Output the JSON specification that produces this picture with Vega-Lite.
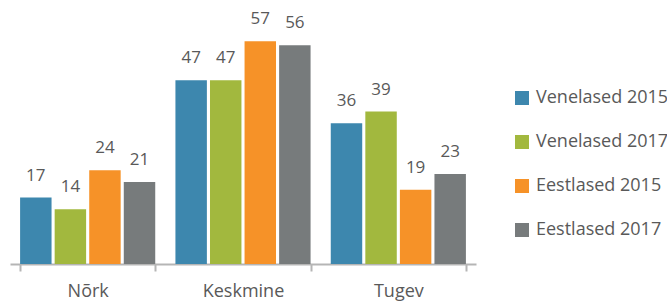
{
  "$schema": "https://vega.github.io/schema/vega-lite/v6.json",
  "autosize": {"type": "none"},
  "padding": {"left": 10, "top": 10, "right": 191, "bottom": 38},
  "width": 466,
  "height": 254,
  "background": "white",
  "config": {
    "view": {"stroke": null},
    "font": "Open Sans",
    "text": {"font": "Open Sans"}
  },
  "data": {
    "values": [
      {"group": "Nõrk", "series": "Venelased 2015", "value": 17},
      {"group": "Nõrk", "series": "Venelased 2017", "value": 14},
      {"group": "Nõrk", "series": "Eestlased 2015", "value": 24},
      {"group": "Nõrk", "series": "Eestlased 2017", "value": 21},
      {"group": "Keskmine", "series": "Venelased 2015", "value": 47},
      {"group": "Keskmine", "series": "Venelased 2017", "value": 47},
      {"group": "Keskmine", "series": "Eestlased 2015", "value": 57},
      {"group": "Keskmine", "series": "Eestlased 2017", "value": 56},
      {"group": "Tugev", "series": "Venelased 2015", "value": 36},
      {"group": "Tugev", "series": "Venelased 2017", "value": 39},
      {"group": "Tugev", "series": "Eestlased 2015", "value": 19},
      {"group": "Tugev", "series": "Eestlased 2017", "value": 23}
    ]
  },
  "encoding": {
    "x": {
      "field": "group",
      "type": "nominal",
      "sort": ["Nõrk", "Keskmine", "Tugev"],
      "scale": {"paddingInner": 0.13, "paddingOuter": 0.065},
      "axis": {
        "title": null,
        "labelAngle": 0,
        "labelFont": "Open Sans",
        "labelFontSize": 18,
        "labelColor": "#595959",
        "labelPadding": 11,
        "domainColor": "#b5b5b5",
        "domainWidth": 2,
        "tickColor": "#b5b5b5",
        "tickWidth": 2,
        "tickSize": 7,
        "tickBand": "extent"
      }
    },
    "xOffset": {
      "field": "series",
      "type": "nominal",
      "sort": ["Venelased 2015", "Venelased 2017", "Eestlased 2015", "Eestlased 2017"],
      "scale": {"paddingInner": 0.09, "paddingOuter": 0}
    },
    "y": {
      "field": "value",
      "type": "quantitative",
      "scale": {"domain": [0, 65]},
      "axis": null
    }
  },
  "layer": [
    {
      "mark": {"type": "bar"},
      "encoding": {
        "color": {
          "field": "series",
          "type": "nominal",
          "sort": ["Venelased 2015", "Venelased 2017", "Eestlased 2015", "Eestlased 2017"],
          "scale": {
            "domain": ["Venelased 2015", "Venelased 2017", "Eestlased 2015", "Eestlased 2017"],
            "range": ["#3d87ae", "#a2b83e", "#f69228", "#777b7c"]
          },
          "legend": {
            "title": null,
            "orient": "none",
            "legendX": 503,
            "legendY": 79,
            "symbolType": "square",
            "symbolSize": 196,
            "symbolStrokeWidth": 0,
            "symbolOpacity": 1,
            "labelFont": "Open Sans",
            "labelFontSize": 18,
            "labelColor": "#595959",
            "labelOffset": 5,
            "rowPadding": 26,
            "padding": 0
          }
        }
      }
    },
    {
      "mark": {"type": "text", "baseline": "alphabetic", "dy": -17, "fontSize": 17, "color": "#595959", "font": "Open Sans"},
      "encoding": {
        "text": {"field": "value", "type": "quantitative"}
      }
    }
  ]
}
